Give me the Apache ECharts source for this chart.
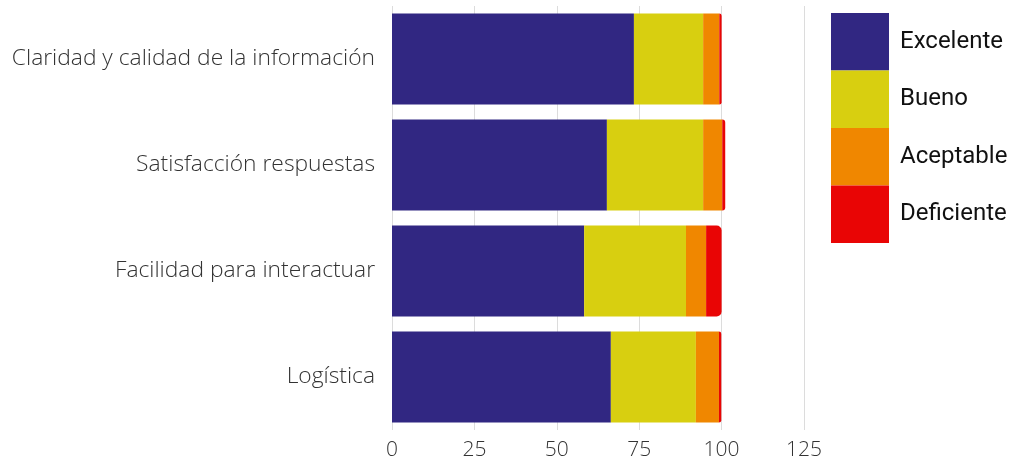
<!DOCTYPE html>
<html>
<head>
<meta charset="utf-8">
<script src="https://cdn.jsdelivr.net/npm/echarts@6/dist/echarts.min.js"></script>
<style>
  html, body { margin: 0; padding: 0; background: #fff; }
  #chart { width: 1016px; height: 461px; }
</style>
</head>
<body>
<div id="chart"></div>
<script>
const categories = ['Claridad y calidad de la información', 'Satisfacción respuestas', 'Facilidad para interactuar', 'Logística']
const excelente = [73.4, 65.2, 58.3, 66.4]
const bueno = [21.0, 29.2, 30.9, 25.8]
const aceptable = [4.9, 5.8, 6.1, 7.0]
const deficiente = [0.7, 0.9, 4.7, 0.7]

const colors = ['#312782', '#d8cf10', '#f08700', '#e90505']
const names = ['Excelente', 'Bueno', 'Aceptable', 'Deficiente']
const seriesData = [excelente, bueno, aceptable, deficiente]

const chart = echarts.init(document.getElementById('chart'))
chart.setOption({
  animation: false,
  grid: { left: 392, right: 212, top: 6, bottom: 30 },
  legend: {
    orient: 'vertical',
    left: 831,
    top: 13,
    padding: 0,
    itemWidth: 58,
    itemHeight: 57.5,
    itemGap: 0,
    icon: 'rect',
    textStyle: { fontFamily: 'Roboto', fontSize: 24, color: '#111', padding: [4, 0, 0, 6] },
    data: names
  },
  xAxis: {
    type: 'value',
    min: 0,
    max: 125,
    interval: 25,
    axisLine: { show: false },
    axisTick: { show: false },
    splitLine: { lineStyle: { color: '#dcdcdc' } },
    axisLabel: { fontFamily: 'Open Sans', fontWeight: 300, fontSize: 21, color: '#333', margin: 10 }
  },
  yAxis: {
    type: 'category',
    data: categories,
    inverse: true,
    axisLine: { show: false },
    axisTick: { show: false },
    axisLabel: { fontFamily: 'Open Sans', fontWeight: 300, fontSize: 22.8, color: '#333', margin: 17 }
  },
  series: names.map((n, i) => ({
    name: n,
    type: 'bar',
    stack: 'total',
    barCategoryGap: '14%',
    data: seriesData[i],
    itemStyle: {
      color: colors[i],
      borderRadius: i === 3 ? [0, 5, 5, 0] : 0
    }
  }))
})
</script>
</body>
</html>
